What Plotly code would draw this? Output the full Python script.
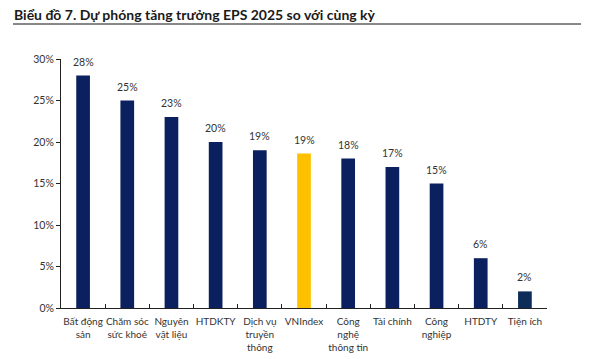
import plotly.graph_objects as go

categories = ["Bất động<br>sản", "Chăm sóc<br>sức khoẻ", "Nguyên<br>vật liệu", "HTDKTY",
              "Dịch vụ<br>truyền<br>thông", "VNIndex", "Công<br>nghệ<br>thông tin",
              "Tài chính", "Công<br>nghiệp", "HTDTY", "Tiện ích"]
values = [28, 25, 23, 20, 19, 18.6, 18, 17, 15, 6, 2]
labels = ["28%", "25%", "23%", "20%", "19%", "19%", "18%", "17%", "15%", "6%", "2%"]
colors = ["#0b215f"] * 5 + ["#ffc000"] + ["#0b215f"] * 4 + ["#0d2c57"]
y_ticks = [0, 5, 10, 15, 20, 25, 30]
y_tick_text = ["0%", "5%", "10%", "15%", "20%", "25%", "30%"]

# page has an 8px body margin; figure starts at (8, 8)
OFF = 8
W, H = 589 - OFF, 359 - OFF
L, R, T, B = 61 - OFF, 42, 59 - OFF, 51
pw, ph = W - L - R, H - T - B

FONT = "Lato"

fig = go.Figure(go.Bar(x=categories, y=values, marker=dict(color=colors, line=dict(width=0)),
                       width=0.31, hoverinfo="skip"))

for c, v, t in zip(categories, values, labels):
    fig.add_annotation(x=c, y=v, text=t, showarrow=False, yanchor="bottom", yshift=6,
                       font=dict(family=FONT, size=10.5, color="#333333"))

fig.add_annotation(xref="paper", yref="paper", x=(13 - 61) / pw, y=(308 - 14.5) / ph,
                   xanchor="left", yanchor="middle", showarrow=False, borderpad=0,
                   text="<b>Biểu đồ 7. Dự phóng tăng trưởng EPS 2025 so với cùng kỳ</b>",
                   font=dict(family=FONT, size=14, color="#1a1a1a"))
fig.add_shape(type="line", xref="paper", yref="paper", x0=(13 - 61) / pw, x1=(589 - 61) / pw,
              y0=(308 - 24) / ph, y1=(308 - 24) / ph, line=dict(color="#111111", width=1))

fig.update_layout(
    width=W, height=H, margin=dict(l=L, r=R, t=T, b=B),
    paper_bgcolor="white", plot_bgcolor="white", showlegend=False,
    bargap=0.69,
    xaxis=dict(showline=True, linecolor="#222222", linewidth=1, ticks="inside", ticklen=4,
               tickcolor="#222222", tickson="boundaries", showgrid=False, tickangle=0,
               automargin=False, ticklabelstandoff=4,
               tickfont=dict(family=FONT, size=10, color="#333333")),
    yaxis=dict(range=[0, 30], tickmode="array", tickvals=y_ticks, ticktext=y_tick_text,
               showline=True, automargin=False,
               linecolor="#222222", linewidth=1, ticks="outside", ticklen=4,
               tickcolor="#222222", showgrid=False, zeroline=False,
               tickfont=dict(family=FONT, size=10.5, color="#333333")),
)

fig.write_html("out.html")
